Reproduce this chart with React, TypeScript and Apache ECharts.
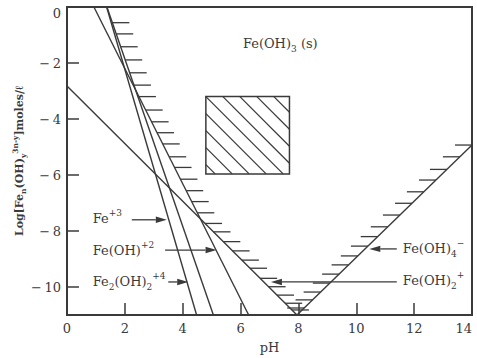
import React, { useEffect, useRef } from "react";
import * as echarts from "echarts";

// ---- axes ----
const xTicks = [0, 2, 4, 6, 8, 10, 12, 14];
const yTicks = [0, -2, -4, -6, -8, -10];

// ---- solubility lines (pH, log concentration) ----
const steepLineA = [[1.37, 0], [4.48, -11]];
const steepLineB = [[1.38, 0], [5.06, -11]];
const steepLineC = [[0.93, 0], [6.28, -11]];
const hydroxoLine = [[0, -2.82], [7.95, -11]];
const ferrateLine = [[7.95, -11], [14, -4.93]];

// ---- hatch levels along the solubility boundary (log units) ----
const leftHatchLevels = [
  -0.56, -0.96, -1.42, -1.89, -2.35, -2.79, -3.2, -3.68, -4.1, -4.49, -4.89,
  -5.35, -5.73, -6.15, -6.56, -6.95, -7.35, -7.73, -8.03, -8.38, -8.71, -9.04,
  -9.33, -9.69, -9.99, -10.29, -10.58, -10.82,
];
const rightHatchLevels = [
  -4.93, -5.35, -5.8, -6.18, -6.6, -7.01, -7.43, -7.85, -8.2, -8.54, -8.89,
  -9.21, -9.54, -9.86, -10.18, -10.46, -10.75,
];

// ---- hatched box (pH left, log top, pH right, log bottom) ----
const solidBox = [4.8, -3.2, 7.69, -5.96];

// ---- labels ----
const labelTexts = [
  "{b|Fe(OH)}{sub|3}{b| (s)}",
  "{b|Fe}{sup|+3}",
  "{b|Fe(OH)}{sup|+2}",
  "{b|Fe}{sub|2}{b|(OH)}{sub|2}{sup|+4}",
  "{b|Fe(OH)}{sub|4}{sup|−}",
  "{b|Fe(OH)}{sub|2}{sup|+}",
];
const labelX = [6.08, 0.89, 0.89, 0.89, 11.61, 11.61];
const labelY = [-1.29, -7.57, -8.68, -9.82, -8.64, -9.75];

// ---- arrows: [fromPH, fromLog] -> [toPH, toLog] ----
const arrowFrom = [[2.24, -7.6], [3.39, -8.68], [3.5, -9.82], [11.4, -8.64], [11.4, -9.82]];
const arrowTo = [[3.45, -7.6], [5.17, -8.68], [4.19, -9.82], [10.45, -8.64], [7.05, -9.82]];

const INK = "#3a3a3a";
const FONT = "'DejaVu Serif', serif";

function xAt(seg: number[][], y: number): number | null {
  const [[x0, y0], [x1, y1]] = seg;
  if (y > Math.max(y0, y1) + 1e-9 || y < Math.min(y0, y1) - 1e-9) return null;
  return x0 + ((y - y0) * (x1 - x0)) / (y1 - y0);
}
function leftBoundaryAt(y: number): number {
  let best = -Infinity;
  for (const s of [steepLineA, steepLineB, steepLineC, hydroxoLine]) {
    const x = xAt(s, y);
    if (x !== null && x > best) best = x;
  }
  return best;
}
function rightBoundaryAt(y: number): number {
  const x = xAt(ferrateLine, y);
  return x === null ? 14 : x;
}

const richStyles = {
  b: { fontFamily: FONT, fontSize: 13, color: INK, lineHeight: 20 },
  sup: { fontFamily: FONT, fontSize: 9, color: INK, lineHeight: 10, verticalAlign: "top" },
  sub: { fontFamily: FONT, fontSize: 9, color: INK, lineHeight: 10, verticalAlign: "bottom" },
};

function lineSeries(pts: number[][]) {
  return {
    type: "line",
    data: pts,
    showSymbol: false,
    silent: true,
    lineStyle: { color: INK, width: 1.4 },
    z: 3,
  };
}

export default function App() {
  const ref = useRef<HTMLDivElement>(null);
  useEffect(() => {
    const chart = echarts.init(ref.current!, null, { renderer: "svg" });
    const hatchData: number[][] = [
      ...leftHatchLevels.map((l) => [l, 0]),
      ...rightHatchLevels.map((l) => [l, 1]),
    ];
    const option: any = {
      animation: false,
      backgroundColor: "#ffffff",
      grid: {
        left: 67,
        top: 7,
        right: 5,
        bottom: 43,
        containLabel: false,
        outerBoundsMode: "none",
        show: true,
        borderColor: INK,
        borderWidth: 2,
        backgroundColor: "transparent",
      },
      xAxis: {
        type: "value",
        position: "bottom",
        min: 0,
        max: 14,
        interval: 2,
        name: "pH",
        nameLocation: "middle",
        nameGap: 26,
        nameTextStyle: { fontFamily: FONT, fontSize: 13, color: INK },
        axisLine: { show: false, onZero: false },
        splitLine: { show: false },
        axisTick: { show: true, inside: true, length: 12, lineStyle: { color: INK, width: 1.5 } },
        axisLabel: {
          margin: 7,
          fontFamily: FONT,
          fontSize: 13,
          color: INK,
          customValues: xTicks,
          alignMaxLabel: "right",
        },
      },
      yAxis: {
        type: "value",
        position: "left",
        min: -11,
        max: 0,
        name: "{n|Log[Fe}{s|n}{n|(OH)}{s|y}{p|3n-y}{n|]moles/ℓ}",
        nameLocation: "middle",
        nameRotate: 90,
        nameGap: 40,
        nameMoveOverlap: false,
        nameTextStyle: {
          rich: {
            n: { fontFamily: FONT, fontSize: 11, fontWeight: "bold", color: INK, lineHeight: 16 },
            s: { fontFamily: FONT, fontSize: 7.5, fontWeight: "bold", color: INK, lineHeight: 8, verticalAlign: "bottom" },
            p: { fontFamily: FONT, fontSize: 7.5, fontWeight: "bold", color: INK, lineHeight: 8, verticalAlign: "top" },
          },
        },
        axisLine: { show: false, onZero: false },
        splitLine: { show: false },
        axisTick: {
          show: true,
          inside: true,
          length: 12,
          lineStyle: { color: INK, width: 1.5 },
          customValues: yTicks,
        },
        axisLabel: {
          margin: 6,
          fontFamily: FONT,
          fontSize: 13,
          color: INK,
          customValues: yTicks,
          formatter: (v: number) => (v < 0 ? "−\u2009" + Math.abs(v) : "{z|0}"),
          rich: {
            z: { fontFamily: FONT, fontSize: 13, color: INK, padding: [12, 0, 0, 0] },
          },
        },
      },
      series: [
        lineSeries(steepLineA),
        lineSeries(steepLineB),
        lineSeries(steepLineC),
        lineSeries(hydroxoLine),
        lineSeries(ferrateLine),
        {
          type: "custom",
          coordinateSystem: "cartesian2d",
          silent: true,
          data: hatchData,
          z: 4,
          renderItem: (params: any, api: any) => {
            const level = api.value(0);
            const side = api.value(1);
            const bx = side === 0 ? leftBoundaryAt(level) : rightBoundaryAt(level);
            const p = api.coord([bx, level]);
            const len = 17;
            return {
              type: "line",
              shape: { x1: p[0], y1: p[1], x2: side === 0 ? p[0] + len : p[0] - len, y2: p[1] },
              style: { stroke: INK, lineWidth: 1.3 },
            };
          },
        },
        {
          type: "custom",
          coordinateSystem: "cartesian2d",
          silent: true,
          data: [solidBox],
          z: 4,
          renderItem: (params: any, api: any) => {
            const p0 = api.coord([api.value(0), api.value(1)]);
            const p1 = api.coord([api.value(2), api.value(3)]);
            const X0 = p0[0], Y0 = p0[1], X1 = p1[0], Y1 = p1[1];
            const w = X1 - X0, h = Y1 - Y0;
            const step = 17;
            const children: any[] = [
              {
                type: "rect",
                shape: { x: X0, y: Y0, width: w, height: h },
                style: { fill: "none", stroke: INK, lineWidth: 1.5 },
              },
            ];
            for (let k = Math.ceil(-h / step); k <= Math.floor(w / step); k++) {
              const c = k * step;
              const t0 = Math.max(0, -c);
              const t1 = Math.min(h, w - c);
              if (t1 - t0 < 1) continue;
              children.push({
                type: "line",
                shape: { x1: X0 + c + t0, y1: Y0 + t0, x2: X0 + c + t1, y2: Y0 + t1 },
                style: { stroke: INK, lineWidth: 1.2 },
              });
            }
            return { type: "group", children };
          },
        },
        {
          type: "custom",
          coordinateSystem: "cartesian2d",
          silent: true,
          data: arrowFrom.map((f, i) => [f[0], f[1], arrowTo[i][0], arrowTo[i][1]]),
          z: 5,
          renderItem: (params: any, api: any) => {
            const a = api.coord([api.value(0), api.value(1)]);
            const b = api.coord([api.value(2), api.value(3)]);
            const dx = b[0] - a[0], dy = b[1] - a[1];
            const L = Math.sqrt(dx * dx + dy * dy) || 1;
            const ux = dx / L, uy = dy / L;
            const hl = 11, hw = 3.2;
            const bx = b[0] - ux * hl, by = b[1] - uy * hl;
            return {
              type: "group",
              children: [
                {
                  type: "line",
                  shape: { x1: a[0], y1: a[1], x2: bx, y2: by },
                  style: { stroke: INK, lineWidth: 1.3 },
                },
                {
                  type: "polygon",
                  shape: {
                    points: [
                      [b[0], b[1]],
                      [bx - uy * hw, by + ux * hw],
                      [bx + uy * hw, by - ux * hw],
                    ],
                  },
                  style: { fill: INK },
                },
              ],
            };
          },
        },
        {
          type: "custom",
          coordinateSystem: "cartesian2d",
          silent: true,
          data: labelX.map((x, i) => [x, labelY[i], i]),
          z: 6,
          renderItem: (params: any, api: any) => {
            const p = api.coord([api.value(0), api.value(1)]);
            const i = api.value(2);
            return {
              type: "text",
              x: p[0],
              y: p[1],
              style: {
                text: labelTexts[i],
                rich: richStyles,
                align: "left",
                verticalAlign: "middle",
                fill: INK,
              },
            };
          },
        },
      ],
    };
    chart.setOption(option);
    return () => chart.dispose();
  }, []);
  return (
    <div
      ref={ref}
      style={{ position: "fixed", left: 0, top: 0, width: 477, height: 358 }}
    />
  );
}
